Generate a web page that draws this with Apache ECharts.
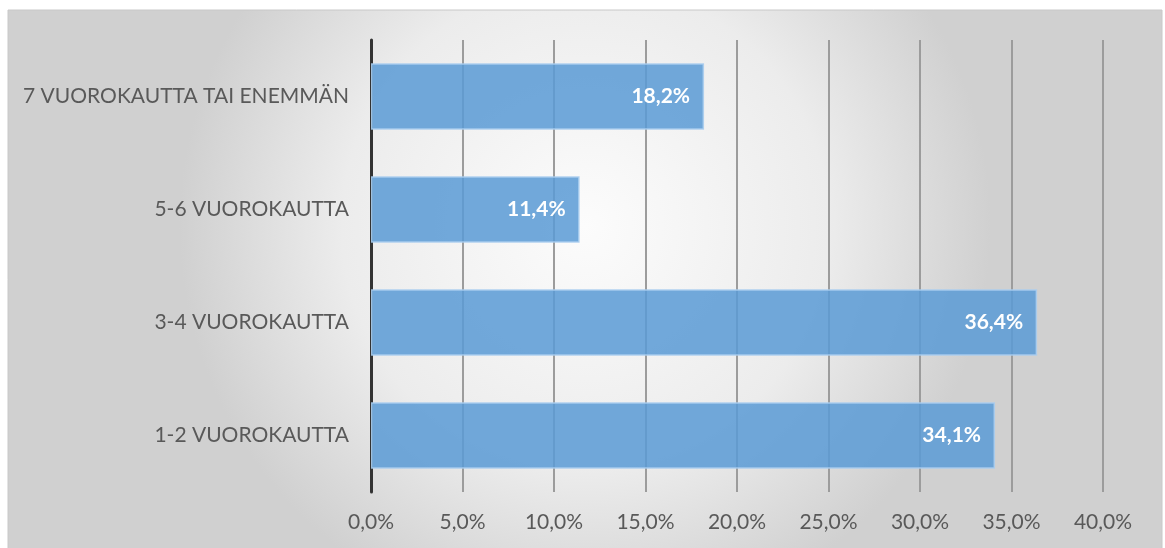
<!DOCTYPE html>
<html>
<head>
<meta charset="utf-8">
<script src="https://cdn.jsdelivr.net/npm/echarts@6/dist/echarts.min.js"></script>
<style>
  html, body { margin: 0; padding: 0; background: #ffffff; }
  #chart { width: 1165px; height: 548px; }
</style>
</head>
<body>
<div id="chart"></div>
<script>
// Stay length categories (bottom to top) and their shares in percent
const categories = ['1-2 VUOROKAUTTA', '3-4 VUOROKAUTTA', '5-6 VUOROKAUTTA', '7 VUOROKAUTTA TAI ENEMMÄN'];
const shares = [34.1, 36.4, 11.4, 18.2];
const axisMax = 40;
const axisStep = 5;

const fmt = v => v.toFixed(1).replace('.', ',') + '%';
const font = 'Lato, "Open Sans", sans-serif';

const chart = echarts.init(document.getElementById('chart'));
chart.setOption({
  animation: false,
  graphic: [{
    type: 'rect',
    z: -10,
    silent: true,
    shape: { x: 8, y: 10, width: 1154, height: 540 },
    style: {
      fill: new echarts.graphic.RadialGradient(0.5, 0.4, 0.75, [
        { offset: 0, color: '#fcfcfc' },
        { offset: 0.6, color: '#ececec' },
        { offset: 1, color: '#d0d0d0' }
      ]),
      stroke: '#c8c8c8',
      lineWidth: 1
    }
  }],
  grid: { left: 371, right: 1165 - 1103, top: 40, bottom: 548 - 492 },
  xAxis: {
    type: 'value',
    min: 0,
    max: axisMax,
    interval: axisStep,
    axisLine: { show: false },
    axisTick: { show: false },
    axisLabel: {
      formatter: v => fmt(v),
      color: '#595959',
      fontFamily: font,
      fontSize: 21,
      margin: 20
    },
    splitLine: { show: true, lineStyle: { color: '#9c9c9c', width: 2 } }
  },
  yAxis: {
    type: 'category',
    data: categories,
    axisLine: { show: true, lineStyle: { color: '#333333', width: 3 } },
    axisTick: { show: false },
    axisLabel: {
      color: '#595959',
      fontFamily: font,
      fontSize: 21,
      margin: 22
    }
  },
  series: [{
    type: 'bar',
    data: shares,
    barCategoryGap: '41%',
    itemStyle: {
      color: 'rgba(91,155,213,0.86)',
      borderColor: 'rgba(170,205,238,0.9)',
      borderWidth: 1.5
    },
    label: {
      show: true,
      position: 'insideRight',
      distance: 14,
      formatter: p => fmt(p.value),
      color: '#ffffff',
      fontFamily: font,
      fontWeight: 'bold',
      fontSize: 21
    }
  }]
});
</script>
</body>
</html>
